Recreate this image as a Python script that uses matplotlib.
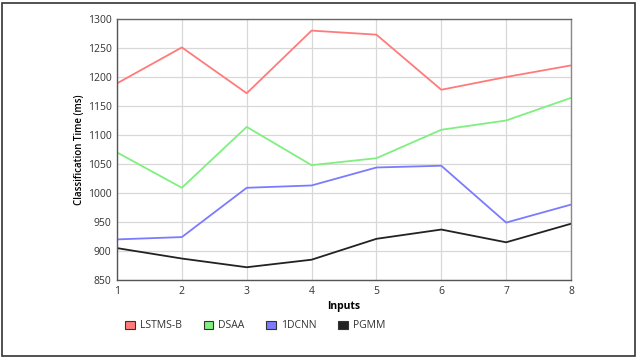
import matplotlib
matplotlib.use("Agg")
import matplotlib.pyplot as plt
from matplotlib.patches import Rectangle, Patch

plt.rcParams['font.family'] = ['Open Sans', 'DejaVu Sans']

inputs = [1, 2, 3, 4, 5, 6, 7, 8]
lstms_b = [1189, 1251, 1172, 1280, 1273, 1178, 1200, 1220]
dsaa = [1070, 1009, 1114, 1048, 1060, 1109, 1125, 1164]
cnn1d = [920, 924, 1009, 1013, 1044, 1047, 949, 980]
pgmm = [905, 887, 872, 885, 921, 937, 915, 947]

series = [("LSTMS-B", lstms_b, "#ff7b7b"),
          ("DSAA", dsaa, "#7ff07f"),
          ("1DCNN", cnn1d, "#7b7bff"),
          ("PGMM", pgmm, "#222222")]

fig = plt.figure(figsize=(6.39, 3.57), dpi=100)
ax = fig.add_axes([117/639, 1-280/357, (571-117)/639, (280-19)/357])

for name, vals, col in series:
    ax.plot(inputs, vals, color=col, lw=1.3)

ax.set_xlim(1, 8)
ax.set_ylim(850, 1300)
ax.set_xticks(inputs)
ax.set_yticks(range(850, 1301, 50))
ax.grid(True, color="#d8d8d8", lw=0.9)
ax.set_axisbelow(True)
ax.tick_params(length=0, labelsize=7.5, colors="#333333", pad=4)
for s in ax.spines.values():
    s.set_color("#555555")
    s.set_linewidth(1.0)
ax.spines['right'].set_color("#888888")
ax.spines['top'].set_color("#666666")
ax.set_xlabel("Inputs", fontsize=7.5, fontweight="bold", labelpad=3)
ax.set_ylabel("Classification Time (ms)", fontsize=7, fontweight="semibold", labelpad=2)

handles = [Patch(facecolor=c, edgecolor="#333333", lw=0.8, label=n) for n, _, c in series]
fig.legend(handles=handles, loc="center left", bbox_to_anchor=(116/639, 1-326/357),
           ncol=4, frameon=False, fontsize=7.5, handlelength=0.9, handleheight=0.9,
           handletextpad=0.5, columnspacing=2.1, labelcolor="#333333")

fig.patches.append(Rectangle((2/639, 1-356/357), 633/639, 353/357, transform=fig.transFigure,
                             fill=False, edgecolor="#333333", lw=1.2))

fig.savefig("out.png", dpi=100)
